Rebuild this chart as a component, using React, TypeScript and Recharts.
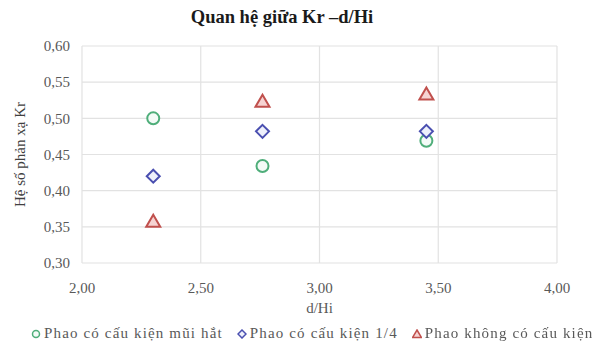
import React from "react";
import {
  ScatterChart,
  Scatter,
  XAxis,
  YAxis,
  CartesianGrid,
  Legend,
} from "recharts";

const xValues = [2.3, 2.76, 3.45];
const muiHatValues = [0.5, 0.434, 0.469];
const motPhanTuValues = [0.42, 0.482, 0.482];
const khongCauKienValues = [0.357, 0.523, 0.533];

const seriesNames = [
  "Phao có cấu kiện mũi hắt",
  "Phao có cấu kiện 1/4",
  "Phao không có cấu kiện",
];

const xTicks = [2, 2.5, 3, 3.5, 4];
const yTicks = [0.3, 0.35, 0.4, 0.45, 0.5, 0.55, 0.6];

const toPoints = (ys: number[]) => xValues.map((x, i) => ({ x, y: ys[i] }));

const GREEN = "#4fae7a";
const BLUE = "#4a4fb0";
const RED = "#c0504d";
const FONT = "'Liberation Serif', 'DejaVu Serif', serif";

const fmt = (v: number) => v.toFixed(2).replace(".", ",");

const CircleMark = ({ cx, cy }: any) => (
  <circle cx={cx} cy={cy} r={6} fill="#f4fbf7" stroke={GREEN} strokeWidth={2} />
);

const DiamondMark = ({ cx, cy }: any) => (
  <path
    d={`M${cx},${cy - 6.5} L${cx + 6.5},${cy} L${cx},${cy + 6.5} L${cx - 6.5},${cy} Z`}
    fill="#eef0fb"
    stroke={BLUE}
    strokeWidth={2}
  />
);

const TriangleMark = ({ cx, cy }: any) => (
  <path
    d={`M${cx},${cy - 7} L${cx + 7},${cy + 5} L${cx - 7},${cy + 5} Z`}
    fill="#f6d3d2"
    stroke={RED}
    strokeWidth={2}
  />
);

const legendIcons = [
  (
    <svg width={10} height={10}>
      <circle cx={5} cy={5} r={3.5} fill="#f4fbf7" stroke={GREEN} strokeWidth={1.5} />
    </svg>
  ),
  (
    <svg width={10} height={10}>
      <path d="M5,1 L9,5 L5,9 L1,5 Z" fill="#eef0fb" stroke={BLUE} strokeWidth={1.5} />
    </svg>
  ),
  (
    <svg width={10} height={10}>
      <path d="M5,1 L9.5,8.5 L0.5,8.5 Z" fill="#f6d3d2" stroke={RED} strokeWidth={1.5} />
    </svg>
  ),
];

const CustomLegend = () => (
  <div
    style={{
      display: "flex",
      alignItems: "center",
      fontFamily: FONT,
      fontSize: 15,
      letterSpacing: 1.15,
      color: "#595959",
      whiteSpace: "nowrap",
      paddingLeft: 31,
      gap: 14,
    }}
  >
    {seriesNames.map((name, i) => (
      <div key={name} style={{ display: "flex", alignItems: "center", gap: 3 }}>
        {legendIcons[i]}
        <span>{name}</span>
      </div>
    ))}
  </div>
);

export default function App() {
  return (
    <div style={{ position: "fixed", left: 0, top: 0, background: "#fff" }}>
      <ScatterChart
        width={593}
        height={355}
        margin={{ top: 46, right: 36, bottom: 0, left: 0 }}
      >
        <text
          x={282}
          y={23}
          textAnchor="middle"
          fontFamily={FONT}
          fontWeight="bold"
          fontSize={18.5}
          fill="#1a1a1a"
        >
          Quan hệ giữa Kr –d/Hi
        </text>
        <CartesianGrid stroke="#e2e2e2" strokeWidth={1.2} />
        <XAxis
          type="number"
          dataKey="x"
          domain={[2, 4]}
          ticks={xTicks}
          tickFormatter={fmt}
          axisLine={false}
          tickLine={false}
          height={62}
          tick={{ fontFamily: FONT, fontSize: 15, fill: "#595959", dy: 11 }}
          label={{
            value: "d/Hi",
            position: "insideBottom",
            offset: 12,
            style: { fontFamily: FONT, fontSize: 15, fill: "#595959" },
          }}
        />
        <YAxis
          type="number"
          dataKey="y"
          domain={[0.3, 0.6]}
          ticks={yTicks}
          tickFormatter={fmt}
          axisLine={false}
          tickLine={false}
          width={82}
          tick={{ fontFamily: FONT, fontSize: 15, fill: "#595959", dx: -4 }}
          label={{
            value: "Hệ số phản xạ Kr",
            angle: -90,
            position: "insideLeft",
            offset: 20,
            style: {
              fontFamily: FONT,
              fontSize: 15,
              fill: "#404040",
              textAnchor: "middle",
            },
          }}
        />
        <Legend verticalAlign="bottom" height={30} content={<CustomLegend />} />
        <Scatter
          name={seriesNames[0]}
          data={toPoints(muiHatValues)}
          shape={<CircleMark />}
          isAnimationActive={false}
        />
        <Scatter
          name={seriesNames[1]}
          data={toPoints(motPhanTuValues)}
          shape={<DiamondMark />}
          isAnimationActive={false}
        />
        <Scatter
          name={seriesNames[2]}
          data={toPoints(khongCauKienValues)}
          shape={<TriangleMark />}
          isAnimationActive={false}
        />
      </ScatterChart>
    </div>
  );
}
